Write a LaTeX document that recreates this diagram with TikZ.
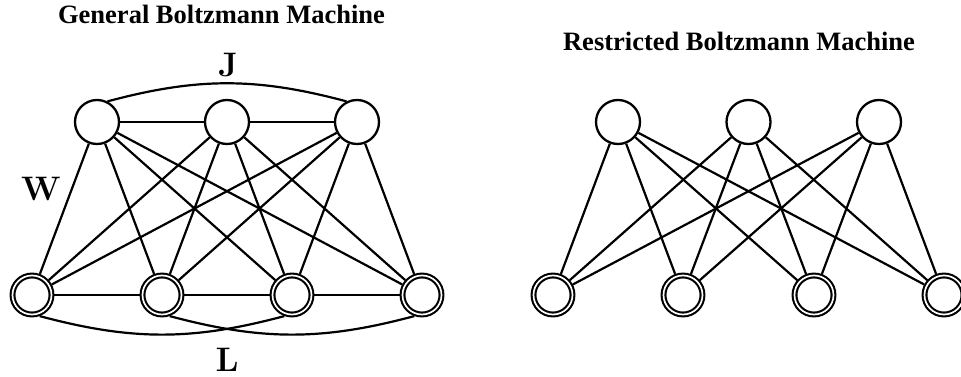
\documentclass[tikz,border=0pt]{standalone}
\usepackage{fontspec}
\newfontfamily\titlefont{Liberation Serif}
\begin{document}
\begin{tikzpicture}[x=1pt,y=1pt,
  edge/.style={line width=2.2pt},
  hid/.style={circle,draw,line width=2.3pt,minimum size=44pt,inner sep=0pt},
  vis/.style={circle,draw,line width=2.1pt,double,double distance=1.7pt,minimum size=39pt,inner sep=0pt,outer sep=2.95pt},
  ttl/.style={font=\titlefont\bfseries\fontsize{26.5}{30}\selectfont,anchor=base,inner sep=0pt},
  lbl/.style={font=\bfseries\fontsize{34}{38}\selectfont,anchor=base,inner sep=0pt}]
\useasboundingbox (0,0) rectangle (961,-377);
\clip (0,0) rectangle (961,-377);
% titles
\node[ttl] (t1) at (221.5,-24) {General Boltzmann Machine};
\node[ttl] (t2) at (739,-51) {Restricted Boltzmann Machine};
% general BM
\node[hid] (a1) at (97,-122) {};
\node[hid] (a2) at (227,-122) {};
\node[hid] (a3) at (357,-122) {};
\node[vis] (b1) at (32,-295) {};
\node[vis] (b2) at (162,-295) {};
\node[vis] (b3) at (292,-295) {};
\node[vis] (b4) at (422,-295) {};
\foreach \i in {1,2,3} \foreach \j in {1,2,3,4} \draw[edge] (a\i) -- (b\j);
\draw[edge] (a1) -- (a2);
\draw[edge] (a2) -- (a3);
\draw[edge] (b1) -- (b2);
\draw[edge] (b2) -- (b3);
\draw[edge] (b3) -- (b4);
\draw[edge] (a1.63) to[bend left=15] (a3.117);
\draw[edge] (b1.-70) to[bend right=15] (b3.-110);
\draw[edge] (b2.-70) to[bend right=15] (b4.-110);
\node[lbl] (J) at (228,-77) {J};
\node[lbl] (W) at (41,-200) {W};
\node[lbl] (L) at (227,-371) {L};
% restricted BM
\node[hid] (c1) at (618,-122) {};
\node[hid] (c2) at (748.5,-122) {};
\node[hid] (c3) at (879,-122) {};
\node[vis] (d1) at (553,-295) {};
\node[vis] (d2) at (683,-295) {};
\node[vis] (d3) at (814,-295) {};
\node[vis] (d4) at (944,-295) {};
\foreach \i in {1,2,3} \foreach \j in {1,2,3,4} \draw[edge] (c\i) -- (d\j);
\end{tikzpicture}
\end{document}
